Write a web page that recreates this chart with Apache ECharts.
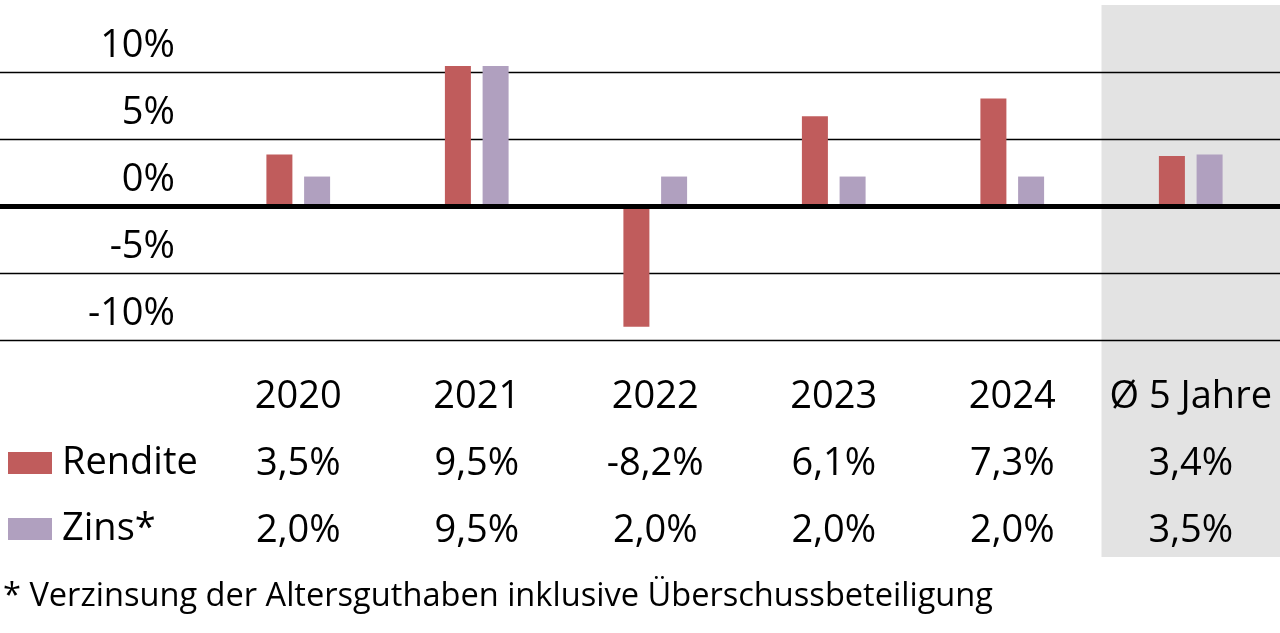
<!DOCTYPE html>
<html>
<head>
<meta charset="utf-8">
<script src="https://cdn.jsdelivr.net/npm/echarts@6/dist/echarts.min.js"></script>
<style>
  html, body { margin: 0; padding: 0; background: #fff; }
  #chart { width: 1280px; height: 633px; }
</style>
</head>
<body>
<div id="chart"></div>
<script>
// Werte aus der Tabelle unter dem Diagramm
const categories = ['2020', '2021', '2022', '2023', '2024', 'Ø 5 Jahre'];
const rendite = [3.5, 9.5, -8.2, 6.1, 7.3, 3.4];
const zins = [2.0, 9.5, 2.0, 2.0, 2.0, 3.5];
const tickLabels = ['-10%', '-5%', '0%', '5%', '10%'];
// the bars in the original are drawn ~10% taller than the axis labels say,
// so the gridlines sit every 4.55 data units (labelled as 5%)
const yStep = 4.55;
const yMin = -2 * yStep;
const yMax = 2 * yStep;

const FONT = 'Open Sans';
const fmt = v => v.toFixed(1).replace('.', ',') + '%';

const chart = echarts.init(document.getElementById('chart'));

const option = {
    backgroundColor: '#fff',
    textStyle: { fontFamily: FONT, color: '#000' },
    animation: false,
    title: {
        text: '* Verzinsung der Altersguthaben inklusive Überschussbeteiligung',
        left: 3,
        top: 577,
        padding: 0,
        textStyle: { fontFamily: FONT, fontSize: 32.6, fontWeight: 'normal', color: '#000', lineHeight: 40 }
    },
    legend: {
        orient: 'vertical',
        left: 8,
        top: 443,
        padding: 0,
        itemWidth: 44,
        itemHeight: 22,
        itemGap: 26,
        icon: 'rect',
        selectedMode: false,
        textStyle: { fontFamily: FONT, fontSize: 38, color: '#000', lineHeight: 40, padding: [0, 0, 0, 5] },
        data: ['Rendite', 'Zins*']
    },
    grid: [
        // bars + table
        { left: 209, right: 0, top: 72, bottom: 293 },
        // full-width gridlines and zero line
        { left: 0, right: 0, top: 72, bottom: 293 }
    ],
    xAxis: [
        {
            type: 'category',
            gridIndex: 0,
            data: categories,
            axisLine: { show: false },
            axisTick: { show: false },
            splitLine: { show: false },
            axisLabel: {
                interval: 0,
                margin: 24,
                fontFamily: FONT,
                fontSize: 38,
                lineHeight: 67,
                color: '#000',
                formatter: (val, idx) => val + '\n{r|' + fmt(rendite[idx]) + '}\n{z|' + fmt(zins[idx]) + '}',
                rich: {
                    r: { fontFamily: FONT, fontSize: 38, lineHeight: 67, color: '#000' },
                    z: { fontFamily: FONT, fontSize: 38, lineHeight: 67, color: '#000' }
                }
            }
        },
        {
            type: 'value',
            gridIndex: 1,
            min: 0,
            max: 1,
            z: 5,
            axisLine: { show: true, onZero: true, lineStyle: { color: '#000', width: 5 } },
            axisTick: { show: false },
            axisLabel: { show: false },
            splitLine: { show: false }
        }
    ],
    yAxis: [
        {
            type: 'value',
            gridIndex: 0,
            min: yMin,
            max: yMax,
            interval: yStep,
            axisLine: { show: false },
            axisTick: { show: false },
            splitLine: { show: false },
            axisLabel: {
                margin: 34,
                fontFamily: FONT,
                fontSize: 38,
                // labels sit above their gridline
                lineHeight: 52,
                verticalAlign: 'bottom',
                color: '#000',
                showMinLabel: true,
                showMaxLabel: true,
                formatter: v => tickLabels[Math.round((v - yMin) / yStep)]
            }
        },
        {
            type: 'value',
            gridIndex: 1,
            min: yMin,
            max: yMax,
            interval: yStep,
            axisLine: { show: false },
            axisTick: { show: false },
            axisLabel: { show: false },
            splitLine: { show: true, lineStyle: { color: '#000', width: 1.3 } }
        }
    ],
    series: [
        {
            name: 'Rendite',
            type: 'bar',
            xAxisIndex: 0,
            yAxisIndex: 0,
            data: rendite,
            clip: false,
            barWidth: 26,
            barGap: '45%',
            itemStyle: { color: '#c05c5c' }
        },
        {
            name: 'Zins*',
            type: 'bar',
            xAxisIndex: 0,
            yAxisIndex: 0,
            data: zins,
            clip: false,
            barWidth: 26,
            itemStyle: { color: '#b0a0bf' }
        }
    ]
};

chart.setOption(option);

// grauer Hintergrund hinter der Spalte "Ø 5 Jahre"
const last = categories.length - 1;
const cLast = chart.convertToPixel({ xAxisIndex: 0 }, categories[last]);
const cPrev = chart.convertToPixel({ xAxisIndex: 0 }, categories[last - 1]);
const band = cLast - cPrev;
chart.setOption({
    graphic: [{
        type: 'rect',
        z: -10,
        silent: true,
        shape: { x: cLast - band / 2, y: 5, width: band, height: 552 },
        style: { fill: '#e3e3e3' }
    }]
});
</script>
</body>
</html>
